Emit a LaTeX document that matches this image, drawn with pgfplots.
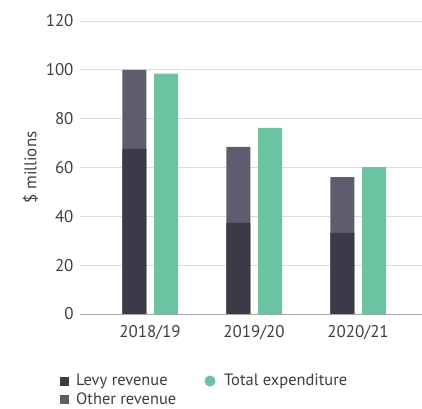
\documentclass[border=0pt]{standalone}
\usepackage{pgfplots}
\pgfplotsset{compat=1.18}
\usepackage{fontspec}
\setmainfont{PT Sans}
\definecolor{levy}{HTML}{3C3A49}
\definecolor{other}{HTML}{5E5B6D}
\definecolor{expend}{HTML}{6CC3A2}
\definecolor{txt}{HTML}{3F3F3F}
\definecolor{gridc}{HTML}{DCDCDC}

\begin{document}
\begin{tikzpicture}[x=1bp,y=1bp]
\fill[white] (-80bp,-95bp) rectangle (342bp,314bp);
\begin{axis}[
name=ax,
at={(0,0)}, anchor=south west,
scale only axis,
width=342bp, height=293bp,
xmin=-0.673, xmax=2.615,
ymin=0, ymax=120,
ytick={0,20,...,120},
xtick={0,1,2},
xticklabels={2018/19,2019/20,2020/21},
axis line style={draw=none},
axis x line*=bottom,
x axis line style={draw=gray!70, line width=0.8pt},
tick style={draw=none},
xmajorgrids=false,
ymajorgrids=true,
y grid style={draw=gridc, line width=0.7pt},
ticklabel style={font=\fontsize{17}{18}\selectfont, text=txt},
yticklabel style={xshift=-3bp},
xticklabel style={yshift=-4bp},
/pgf/number format/assume math mode=true,
ylabel={\$ millions},
ylabel style={font=\fontsize{17}{18}\selectfont, text=txt, yshift=1bp},
ybar, bar width=0.23,
]
% total revenue (levy + other) drawn first, levy on top of it
\addplot[fill=other, draw=none, bar shift=-0.15] coordinates {(0,100) (1,68.4) (2,56.1)};
\addplot[fill=levy, draw=none, bar shift=-0.15] coordinates {(0,67.6) (1,37.3) (2,33.2)};
\addplot[fill=expend, draw=none, bar shift=0.155] coordinates {(0,98.4) (1,76.2) (2,60.2)};
\end{axis}
\begin{scope}[font=\fontsize{16.5}{18}\selectfont, text=txt]
\fill[levy] (-20bp,-72bp) rectangle (-11bp,-63bp);
\node[anchor=west, inner sep=1bp] at (-5bp,-67bp) {Levy revenue};
\fill[other] (-20bp,-90bp) rectangle (-11bp,-81bp);
\node[anchor=west, inner sep=1bp] at (-5bp,-85bp) {Other revenue};
\fill[expend] (130bp,-67bp) circle (5.5bp);
\node[anchor=west, inner sep=1bp] at (143bp,-67bp) {Total expenditure};
\end{scope}
\pgfresetboundingbox
\path[use as bounding box] (-80bp,-95bp) rectangle (342bp,314bp);
\end{tikzpicture}
\end{document}
